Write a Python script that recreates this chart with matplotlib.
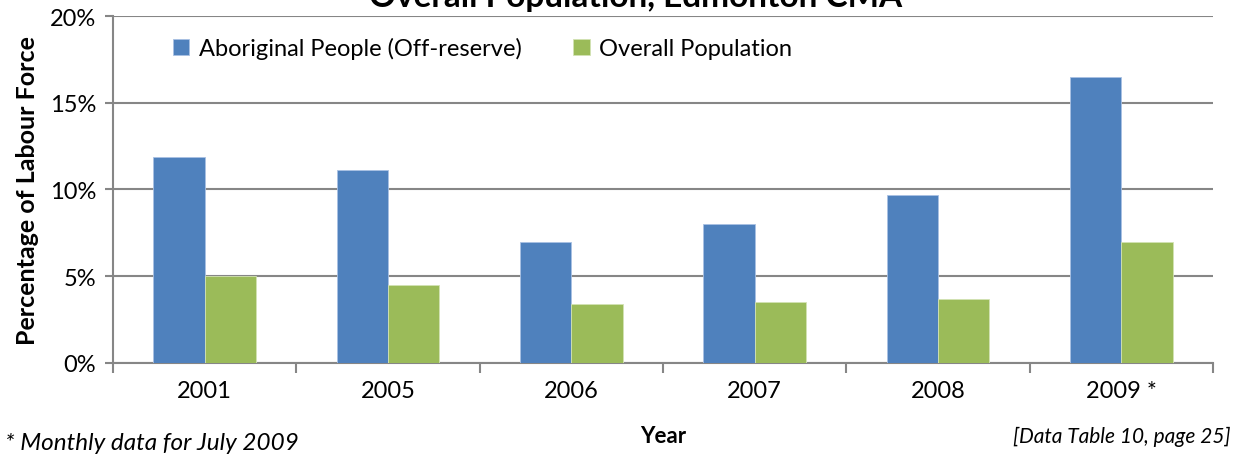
import numpy as np
import matplotlib.pyplot as plt
from matplotlib.ticker import FixedLocator, NullFormatter

years = ['2001', '2005', '2006', '2007', '2008', '2009 *']
aboriginal = [11.9, 11.1, 7.0, 8.0, 9.7, 16.5]
overall = [5.0, 4.5, 3.4, 3.5, 3.7, 7.0]
yticks = [0, 5, 10, 15, 20]

plt.rcParams['font.family'] = ['Lato', 'DejaVu Sans']

fig = plt.figure(figsize=(12.41, 4.56), dpi=100)
ax = fig.add_axes([0.091, 0.2018, 0.8864, 0.7609])

x = np.arange(len(years))
w = 0.28
ax.bar(x - w / 2, aboriginal, w, color='#4F81BD', edgecolor='#A9C1E3', linewidth=0.6,
       label='Aboriginal People (Off-reserve)', zorder=3)
ax.bar(x + w / 2, overall, w, color='#9BBB59', edgecolor='#D3E3B4', linewidth=0.6,
       label='Overall Population', zorder=3)

ax.set_xlim(-0.5, len(years) - 0.5)
ax.set_ylim(0, 20)
ax.set_yticks(yticks)
ax.set_yticklabels([f'{v}%' for v in yticks], fontsize=17)
ax.yaxis.grid(True, color='#868686', linewidth=1.5, zorder=0)
ax.tick_params(axis='y', length=6, width=1.5, color='#868686', pad=6)

ax.set_xticks(x)
ax.set_xticklabels(years, fontsize=17)
ax.tick_params(axis='x', which='major', length=0, pad=12)
ax.xaxis.set_minor_locator(FixedLocator(np.arange(-0.5, len(years), 1.0)))
ax.xaxis.set_minor_formatter(NullFormatter())
ax.tick_params(axis='x', which='minor', length=7, width=1.5, color='#868686')

for s in ['top', 'right']:
    ax.spines[s].set_visible(False)
for s in ['left', 'bottom']:
    ax.spines[s].set_color('#868686')
    ax.spines[s].set_linewidth(1.5)

ax.set_ylabel('Percentage of Labour Force', fontsize=18, fontweight='bold', labelpad=8)

ax.legend(loc='upper left', bbox_to_anchor=(0.035, 1.0), ncol=2, frameon=False,
          fontsize=17, handlelength=0.7, handleheight=0.7, handletextpad=0.4,
          columnspacing=2.2)

fig.text(0.512, 0.985, 'Overall Population, Edmonton CMA', ha='center', va='baseline',
         fontsize=24, fontweight='bold')
fig.text(0.534, 0.02, 'Year', ha='center', va='bottom', fontsize=16, fontweight='bold')
fig.text(0.004, 0.005, '* Monthly data for July 2009', ha='left', va='bottom',
         fontsize=17.5, style='italic')
fig.text(0.992, 0.02, '[Data Table 10, page 25]', ha='right', va='bottom',
         fontsize=15, style='italic')

fig.savefig('out.png', dpi=100)
